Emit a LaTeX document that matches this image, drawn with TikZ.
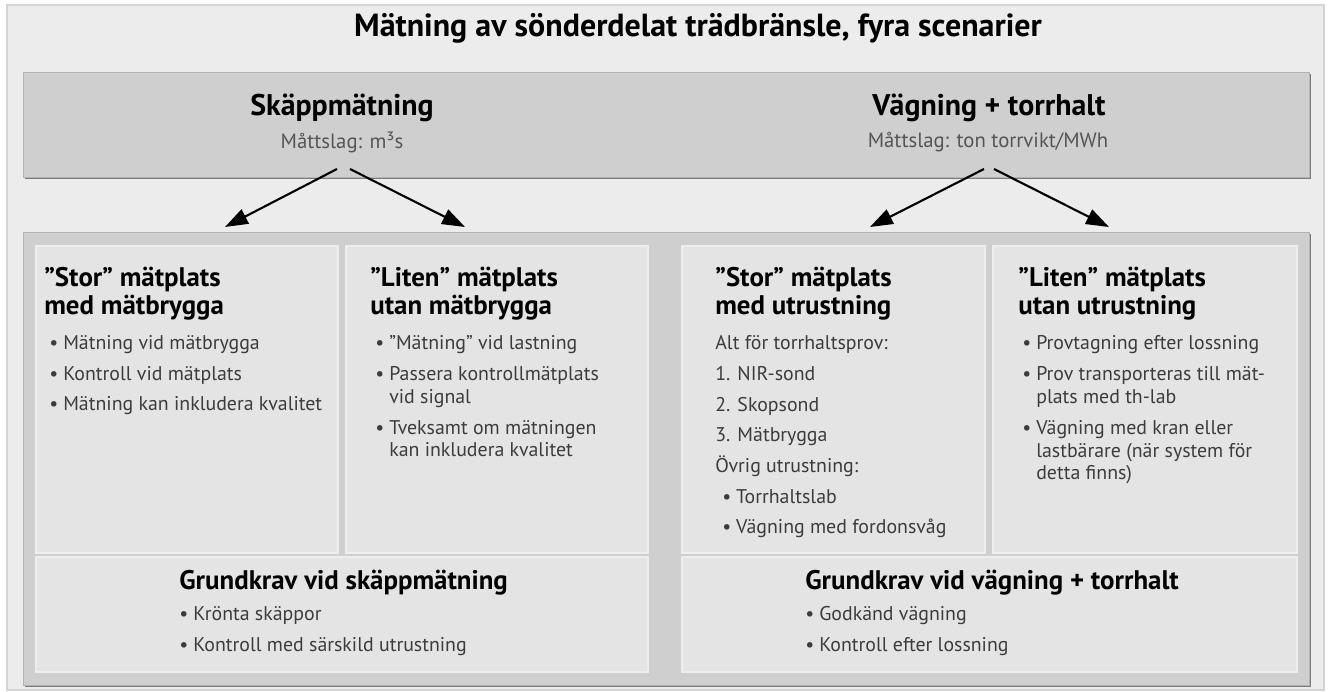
\documentclass[tikz,border=0pt]{standalone}
\usepackage{fontspec}
\setmainfont{PT Sans}
\usepackage{xcolor}
\usepackage{tikz}
\usetikzlibrary{arrows.meta,shadows}
\definecolor{framefill}{HTML}{ECECEC}
\definecolor{framedraw}{HTML}{D4D4D4}
\definecolor{boxfill}{HTML}{CFCFCF}
\definecolor{boxdraw}{HTML}{B4B4B4}
\definecolor{shadowgray}{HTML}{7A7A7A}
\definecolor{panelfill}{HTML}{E4E4E4}
\definecolor{paneldraw}{HTML}{EEEEEE}
\definecolor{bodytext}{HTML}{3C3C3C}
\definecolor{unittext}{HTML}{555555}
\newcommand{\bul}{\textbullet\hspace{0.25em}}
\newcommand{\bulind}{\phantom{\textbullet\hspace{0.25em}}}

\begin{document}
\begin{tikzpicture}[x=0.02cm,y=-0.02cm,
	box/.style={fill=boxfill,draw=boxdraw,line width=0.4pt,
		general shadow={fill=shadowgray,shadow xshift=1.1pt,shadow yshift=-1.1pt}},
	panel/.style={fill=panelfill,draw=paneldraw,line width=0.6pt},
	head/.style={anchor=base west,inner sep=0pt,align=left,font=\bfseries\fontsize{15.3}{16.5}\selectfont},
	list/.style={anchor=base west,inner sep=0pt,align=left,text=bodytext,font=\fontsize{11.3}{13}\selectfont},
	arr/.style={-{Triangle[length=13pt,width=9pt]},line width=1.2pt}]
	\useasboundingbox (0,0) rectangle (1330,692);
	\path[fill=framefill,draw=framedraw,line width=0.9pt] (7,5) rectangle (1324,690);
	%
	\node (title) at (698,28) {\bfseries\fontsize{18.2}{20}\selectfont Mätning av sönderdelat trädbränsle, fyra scenarier};
	%
	\path[box] (23,72) rectangle (1309,177);
	\node (skap) at (342,108) {\bfseries\fontsize{17}{19}\selectfont Skäppmätning};
	\node[text=unittext] (skapunit) at (342,142) {\fontsize{11.8}{13}\selectfont Måttslag: m³s};
	\node (vag) at (989,108) {\bfseries\fontsize{17}{19}\selectfont Vägning + torrhalt};
	\node[text=unittext] (vagunit) at (988,142) {\fontsize{11.8}{13}\selectfont Måttslag: ton torrvikt/MWh};
	%
	\path[box] (23,232) rectangle (1309,685);
	\path[panel] (36,246) rectangle (338,553);
	\path[panel] (346,246) rectangle (648,553);
	\path[panel] (36,557) rectangle (648,672);
	\path[panel] (682,246) rectangle (985,553);
	\path[panel] (993,246) rectangle (1297,553);
	\path[panel] (682,557) rectangle (1297,672);
	%
	\coordinate (skapA) at (337,169);
	\coordinate (skapB) at (350,169);
	\coordinate (skapL) at (225,227);
	\coordinate (skapR) at (465,227);
	\coordinate (vagA) at (984,169);
	\coordinate (vagB) at (994,169);
	\coordinate (vagL) at (870,227);
	\coordinate (vagR) at (1109,227);
	\path[arr] (skapA) edge (skapL)
		(skapB) edge (skapR)
		(vagA) edge (vagL)
		(vagB) edge (vagR);
	%
	% base anchor of a multi-line node = baseline of its last line
	\node[head] (storskap) at (44,315) {”Stor” mätplats\\med mätbrygga};
	\node[list] (storskaplist) at (49,411) {\bul Mätning vid mätbrygga\\[4.6pt]
		\bul Kontroll vid mätplats\\[4.6pt]
		\bul Mätning kan inkludera kvalitet};
	\node[head] (litenskap) at (370,315) {”Liten” mätplats\\utan mätbrygga};
	\node[list] (litenskaplist) at (375,457) {\bul ”Mätning” vid lastning\\[4.6pt]
		\bul Passera kontrollmätplats\\ \bulind vid signal\\[4.6pt]
		\bul Tveksamt om mätningen\\ \bulind kan inkludera kvalitet};
	\node[head] (grundskap) at (179,590) {Grundkrav vid skäppmätning};
	\node[list] (grundskaplist) at (179,652) {\bul Krönta skäppor\\[5pt]
		\bul Kontroll med särskild utrustning};
	%
	\node[head] (storvag) at (715,315) {”Stor” mätplats\\med utrustning};
	\node[list,font=\fontsize{11.3}{17.5}\selectfont] (storvaglist) at (715,534) {Alt för torrhaltsprov:\\
		1. NIR-sond\\
		2. Skopsond\\
		3. Mätbrygga\\
		Övrig utrustning:\\
		\hspace{0.35em}\bul Torrhaltslab\\
		\hspace{0.35em}\bul Vägning med fordonsvåg};
	\node[head] (litenvag) at (1018,315) {”Liten” mätplats\\utan utrustning};
	\node[list] (litenvaglist) at (1022,480) {\bul Provtagning efter lossning\\[4.6pt]
		\bul Prov transporteras till mät-\\ \bulind plats med th-lab\\[4.6pt]
		\bul Vägning med kran eller\\ \bulind lastbärare (när system för\\ \bulind detta finns)};
	\node[head] (grundvag) at (805,590) {Grundkrav vid vägning + torrhalt};
	\node[list] (grundvaglist) at (805,652) {\bul Godkänd vägning\\[5pt]
		\bul Kontroll efter lossning};
\end{tikzpicture}
\end{document}
